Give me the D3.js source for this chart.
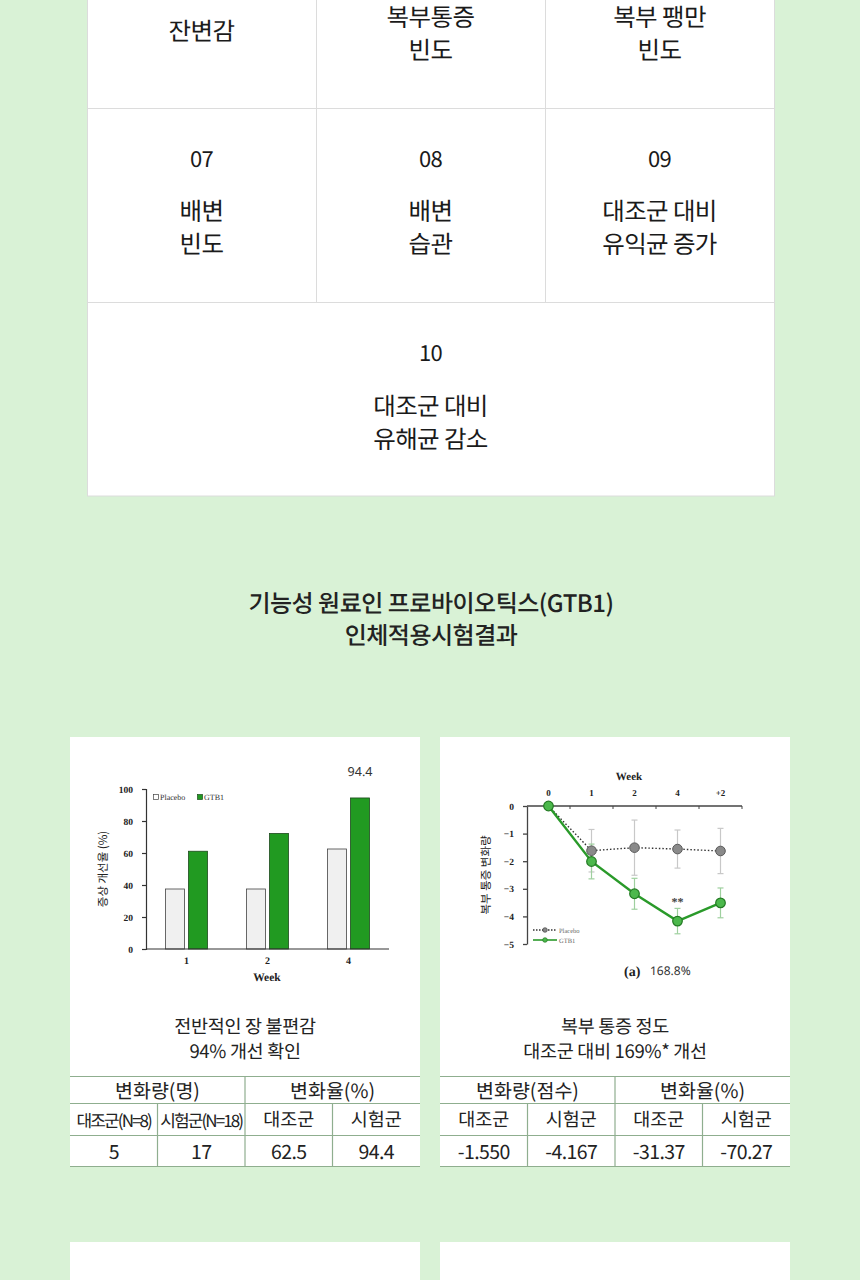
<!DOCTYPE html>
<html><head><meta charset="utf-8">
<script src="https://cdn.jsdelivr.net/npm/d3@7"></script>
<style>
html,body{margin:0;padding:0;background:#d9f2d6;}
svg{display:block;}
text{text-rendering:geometricPrecision;}
</style></head>
<body>
<svg id="chart" width="860" height="1280"></svg>
<script>
// ---------- data ----------
const gridRow1 = [["잔변감"], ["복부통증", "빈도"], ["복부 팽만", "빈도"]];
const gridRow2Nums = ["07", "08", "09"];
const gridRow2 = [["배변", "빈도"], ["배변", "습관"], ["대조군 대비", "유익균 증가"]];
const gridRow3Num = "10";
const gridRow3 = ["대조군 대비", "유해균 감소"];
const titleLines = ["기능성 원료인 프로바이오틱스(GTB1)", "인체적용시험결과"];

const barWeeks = ["1", "2", "4"];
const barPlacebo = [37.5, 37.5, 62.5];
const barGTB1 = [61.1, 72.2, 94.4];
const barYTicks = [0, 20, 40, 60, 80, 100];

const lineWeeks = ["0", "1", "2", "4", "+2"];
const linePlacebo = [0, -1.62, -1.51, -1.56, -1.63];
const linePlaceboErr = [0, 0.77, 1.0, 0.69, 0.82];
const lineGTB1 = [0, -2.01, -3.18, -4.17, -3.51];
const lineGTB1Err = [0, 0.63, 0.56, 0.46, 0.54];
const lineYTicks = [0, -1, -2, -3, -4, -5];

const leftCaption = ["전반적인 장 불편감", "94% 개선 확인"];
const rightCaption = ["복부 통증 정도", "대조군 대비 169%* 개선"];
const leftTable = {head: ["변화량(명)", "변화율(%)"], sub: ["대조군(N=8)", "시험군(N=18)", "대조군", "시험군"], vals: ["5", "17", "62.5", "94.4"]};
const rightTable = {head: ["변화량(점수)", "변화율(%)"], sub: ["대조군", "시험군", "대조군", "시험군"], vals: ["-1.550", "-4.167", "-31.37", "-70.27"]};

// ---------- drawing ----------
const svg = d3.select("#chart");
const KR = "'Noto Sans CJK KR','Noto Sans',sans-serif";
const SERIF = "'Liberation Serif','DejaVu Serif',serif";

svg.append("rect").attr("width", 860).attr("height", 1280).attr("fill", "#d9f2d6");

// top grid
const g0 = svg.append("g");
g0.append("rect").attr("x", 87.5).attr("y", -10).attr("width", 687).attr("height", 506)
  .attr("fill", "#fff").attr("stroke", "#dcdcdc");
[108.5, 302.5].forEach(y => g0.append("line").attr("x1", 87.5).attr("x2", 774.5).attr("y1", y).attr("y2", y).attr("stroke", "#dcdcdc"));
[316.5, 545.5].forEach(x => g0.append("line").attr("x1", x).attr("x2", x).attr("y1", -10).attr("y2", 302.5).attr("stroke", "#dcdcdc"));
const colC = [201.5, 430.5, 659.5];
function lines(g, arr, cx, cy0, step, size) {
  arr.forEach((t, i) => g.append("text").attr("x", cx).attr("y", cy0 + i * step)
    .attr("text-anchor", "middle").attr("dominant-baseline", "central")
    .attr("font-family", KR).attr("font-size", size).attr("letter-spacing", -0.6)
    .attr("fill", "#1a1a1a").text(t));
}
gridRow1.forEach((arr, i) => lines(g0, arr, colC[i], arr.length === 1 ? 30 : 16, 33, 24.5));
gridRow2Nums.forEach((n, i) => lines(g0, [n], colC[i], 158, 0, 22));
gridRow2.forEach((arr, i) => lines(g0, arr, colC[i], 210, 33, 24.5));
lines(g0, [gridRow3Num], 430.5, 352, 0, 22);
lines(g0, gridRow3, 430.5, 405, 33, 24.5);

// title
titleLines.forEach((t, i) => svg.append("text").attr("x", 431).attr("y", 601 + i * 32)
  .attr("text-anchor", "middle").attr("dominant-baseline", "central")
  .attr("font-family", KR).attr("font-weight", 500).attr("font-size", 24).attr("letter-spacing", -0.5).attr("fill", "#222").text(t));

// panels
[70, 440].forEach(x => {
  svg.append("rect").attr("x", x).attr("y", 737).attr("width", 350).attr("height", 429).attr("fill", "#fff");
  svg.append("rect").attr("x", x).attr("y", 1242).attr("width", 350).attr("height", 60).attr("fill", "#fff");
});

// ---------- bar chart ----------
const gb = svg.append("g");
const xb = d3.scaleBand().domain(barWeeks).range([146, 389]);
const yb = d3.scaleLinear().domain([0, 100]).range([949, 789]);
const bw = 19, gap = 4;
barWeeks.forEach((w, i) => {
  const c = xb(w) + xb.bandwidth() / 2;
  gb.append("rect").attr("x", c - gap / 2 - bw).attr("y", yb(barPlacebo[i])).attr("width", bw)
    .attr("height", yb(0) - yb(barPlacebo[i])).attr("fill", "#f0f0f0").attr("stroke", "#444").attr("stroke-width", 0.8);
  gb.append("rect").attr("x", c + gap / 2).attr("y", yb(barGTB1[i])).attr("width", bw)
    .attr("height", yb(0) - yb(barGTB1[i])).attr("fill", "#219a21").attr("stroke", "#1d4a1d").attr("stroke-width", 0.8);
});
const yAxB = gb.append("g").attr("transform", "translate(146,0)")
  .call(d3.axisLeft(yb).tickValues(barYTicks).tickSize(4).tickSizeOuter(4));
yAxB.selectAll("path,line").attr("stroke", "#333").attr("stroke-width", 1.2);
yAxB.selectAll("text").attr("font-family", SERIF).attr("font-weight", "bold").attr("font-size", 9.5).attr("fill", "#222").attr("dx", -6);
const xAxB = gb.append("g").attr("transform", "translate(0,949)")
  .call(d3.axisBottom(xb).tickSize(0).tickSizeOuter(0));
xAxB.select("path").attr("d", "M146,0H389").attr("stroke", "#333").attr("stroke-width", 1.2);
xAxB.selectAll("text").attr("font-family", SERIF).attr("font-weight", "bold").attr("font-size", 10).attr("fill", "#222").attr("dy", "1.2em");
gb.append("text").attr("x", 267).attr("y", 981).attr("text-anchor", "middle").attr("font-family", SERIF)
  .attr("font-weight", "bold").attr("font-size", 11.5).attr("fill", "#222").text("Week");
gb.append("text").attr("transform", "translate(107,869) rotate(-90)").attr("text-anchor", "middle")
  .attr("font-family", KR).attr("font-size", 11.5).attr("fill", "#222").text("증상 개선율 (%)");
// value label
const c4 = xb("4") + xb.bandwidth() / 2 + gap / 2 + bw / 2;
gb.append("text").attr("x", c4).attr("y", yb(barGTB1[2]) - 22).attr("text-anchor", "middle")
  .attr("font-family", "'Noto Sans',sans-serif").attr("font-size", 12.5).attr("fill", "#333").text(barGTB1[2]);
// legend
gb.append("rect").attr("x", 153.5).attr("y", 794.5).attr("width", 5).attr("height", 5).attr("fill", "#fff").attr("stroke", "#444").attr("stroke-width", 0.7);
gb.append("text").attr("x", 160).attr("y", 800).attr("font-family", SERIF).attr("font-size", 8).attr("fill", "#333").text("Placebo");
gb.append("rect").attr("x", 197.5).attr("y", 794.5).attr("width", 5).attr("height", 5).attr("fill", "#219a21").attr("stroke", "#1d4a1d").attr("stroke-width", 0.7);
gb.append("text").attr("x", 204).attr("y", 800).attr("font-family", SERIF).attr("font-size", 8).attr("fill", "#333").text("GTB1");

// ---------- line chart ----------
const gl = svg.append("g");
const xl = d3.scaleBand().domain(lineWeeks).range([527, 742]);
const yl = d3.scaleLinear().domain([0, -5]).range([806, 944]);
const cx = w => xl(w) + xl.bandwidth() / 2;
// axes
gl.append("line").attr("x1", 527).attr("x2", 742).attr("y1", yl(0)).attr("y2", yl(0)).attr("stroke", "#444").attr("stroke-width", 1.3);
lineWeeks.forEach(w => gl.append("line").attr("x1", xl(w) + xl.bandwidth()).attr("x2", xl(w) + xl.bandwidth())
  .attr("y1", yl(0)).attr("y2", yl(0) + 3).attr("stroke", "#444"));
lineWeeks.forEach(w => gl.append("text").attr("x", cx(w)).attr("y", 796).attr("text-anchor", "middle")
  .attr("font-family", SERIF).attr("font-weight", "bold").attr("font-size", 9).attr("fill", "#222").text(w));
gl.append("text").attr("x", 629).attr("y", 780).attr("text-anchor", "middle").attr("font-family", SERIF)
  .attr("font-weight", "bold").attr("font-size", 11).attr("fill", "#222").text("Week");
const yAxL = gl.append("g").attr("transform", "translate(527,0)")
  .call(d3.axisLeft(yl).tickValues(lineYTicks).tickSize(4).tickSizeOuter(0).tickFormat(d3.format("d")));
yAxL.selectAll("path,line").attr("stroke", "#444").attr("stroke-width", 1.3);
yAxL.selectAll("text").attr("font-family", SERIF).attr("font-weight", "bold").attr("font-size", 9.5).attr("fill", "#222").attr("dx", -6);
gl.append("text").attr("transform", "translate(490,875) rotate(-90)").attr("text-anchor", "middle")
  .attr("font-family", KR).attr("font-size", 11.5).attr("fill", "#222").text("복부 통증 변화량");
// error bars
function errBars(vals, errs, color) {
  lineWeeks.forEach((w, i) => {
    if (!errs[i]) return;
    const x = cx(w), y1 = yl(vals[i] + errs[i]), y2 = yl(vals[i] - errs[i]);
    gl.append("line").attr("x1", x).attr("x2", x).attr("y1", y1).attr("y2", y2).attr("stroke", color).attr("stroke-width", 1.2);
    [y1, y2].forEach(y => gl.append("line").attr("x1", x - 3).attr("x2", x + 3).attr("y1", y).attr("y2", y).attr("stroke", color).attr("stroke-width", 1.2));
  });
}
errBars(linePlacebo, linePlaceboErr, "#c8c8c8");
errBars(lineGTB1, lineGTB1Err, "#9fd09f");
const line = d3.line().x((d, i) => cx(lineWeeks[i])).y(d => yl(d));
gl.append("path").datum(linePlacebo).attr("d", line).attr("fill", "none").attr("stroke", "#333").attr("stroke-width", 1.4).attr("stroke-dasharray", "1.5,2");
gl.append("path").datum(lineGTB1).attr("d", line).attr("fill", "none").attr("stroke", "#2a9a2a").attr("stroke-width", 2.4);
linePlacebo.forEach((v, i) => { if (i === 0) return;
  gl.append("circle").attr("cx", cx(lineWeeks[i])).attr("cy", yl(v)).attr("r", 4.8).attr("fill", "#8a8a8a").attr("stroke", "#5a5a5a").attr("stroke-width", 1); });
lineGTB1.forEach((v, i) => gl.append("circle").attr("cx", cx(lineWeeks[i])).attr("cy", yl(v)).attr("r", 4.8)
  .attr("fill", "#4cb84c").attr("stroke", "#237a23").attr("stroke-width", 1.2));
gl.append("text").attr("x", cx("4")).attr("y", 906).attr("text-anchor", "middle").attr("font-family", SERIF)
  .attr("font-weight", "bold").attr("font-size", 12).attr("fill", "#444").text("**");
// legend
gl.append("line").attr("x1", 533).attr("x2", 557).attr("y1", 930).attr("y2", 930).attr("stroke", "#333").attr("stroke-width", 1.3).attr("stroke-dasharray", "1.5,1.5");
gl.append("circle").attr("cx", 545).attr("cy", 930).attr("r", 2.3).attr("fill", "#888").attr("stroke", "#444").attr("stroke-width", 0.7);
gl.append("text").attr("x", 559).attr("y", 932.5).attr("font-family", SERIF).attr("font-size", 6.5).attr("fill", "#666").text("Placebo");
gl.append("line").attr("x1", 533).attr("x2", 557).attr("y1", 940).attr("y2", 940).attr("stroke", "#2a9a2a").attr("stroke-width", 1.6);
gl.append("circle").attr("cx", 545).attr("cy", 940).attr("r", 2.3).attr("fill", "#4cb84c").attr("stroke", "#237a23").attr("stroke-width", 0.7);
gl.append("text").attr("x", 559).attr("y", 942.5).attr("font-family", SERIF).attr("font-size", 6.5).attr("fill", "#666").text("GTB1");
gl.append("text").attr("x", 624).attr("y", 976).attr("font-family", SERIF).attr("font-weight", "bold").attr("font-size", 14).attr("fill", "#222").text("(a)");
gl.append("text").attr("x", 650).attr("y", 975).attr("font-family", "'Noto Sans',sans-serif").attr("font-size", 12).attr("fill", "#333").text("168.8%");

// ---------- captions & tables ----------
function captionTable(x0, cap, tbl) {
  const g = svg.append("g");
  const mid = x0 + 175;
  cap.forEach((t, i) => g.append("text").attr("x", mid).attr("y", 1026 + i * 25).attr("text-anchor", "middle")
    .attr("dominant-baseline", "central").attr("font-family", KR).attr("font-size", 18.5).attr("letter-spacing", -0.3).attr("fill", "#222").text(t));
  const stroke = "#8fae8f";
  [1076, 1103, 1135, 1166].forEach(y => g.append("line").attr("x1", x0).attr("x2", x0 + 350).attr("y1", y + 0.5).attr("y2", y + 0.5).attr("stroke", stroke).attr("stroke-width", 1.2));
  const cw = 87.5;
  g.append("line").attr("x1", x0 + 175).attr("x2", x0 + 175).attr("y1", 1076).attr("y2", 1166).attr("stroke", stroke).attr("stroke-width", 1.2);
  [1, 3].forEach(k => g.append("line").attr("x1", x0 + k * cw).attr("x2", x0 + k * cw).attr("y1", 1103).attr("y2", 1166).attr("stroke", stroke).attr("stroke-width", 1.2));
  tbl.head.forEach((t, i) => g.append("text").attr("x", x0 + 87.5 + i * 175).attr("y", 1089.5).attr("text-anchor", "middle")
    .attr("dominant-baseline", "central").attr("font-family", KR).attr("font-size", 19.5).attr("fill", "#222").text(t));
  tbl.sub.forEach((t, i) => {
    const long = t.length > 4;
    g.append("text").attr("x", x0 + cw / 2 + i * cw).attr("y", 1119).attr("text-anchor", "middle")
      .attr("dominant-baseline", "central").attr("font-family", KR).attr("font-size", long ? 17 : 18.5)
      .attr("letter-spacing", long ? -1.9 : 0).attr("fill", "#222").text(t);
  });
  tbl.vals.forEach((t, i) => g.append("text").attr("x", x0 + cw / 2 + i * cw).attr("y", 1150.5).attr("text-anchor", "middle")
    .attr("dominant-baseline", "central").attr("font-family", KR).attr("font-size", 19.5).attr("letter-spacing", -0.6).attr("fill", "#222").text(t));
}
captionTable(70, leftCaption, leftTable);
captionTable(440, rightCaption, rightTable);
</script>
</body></html>
